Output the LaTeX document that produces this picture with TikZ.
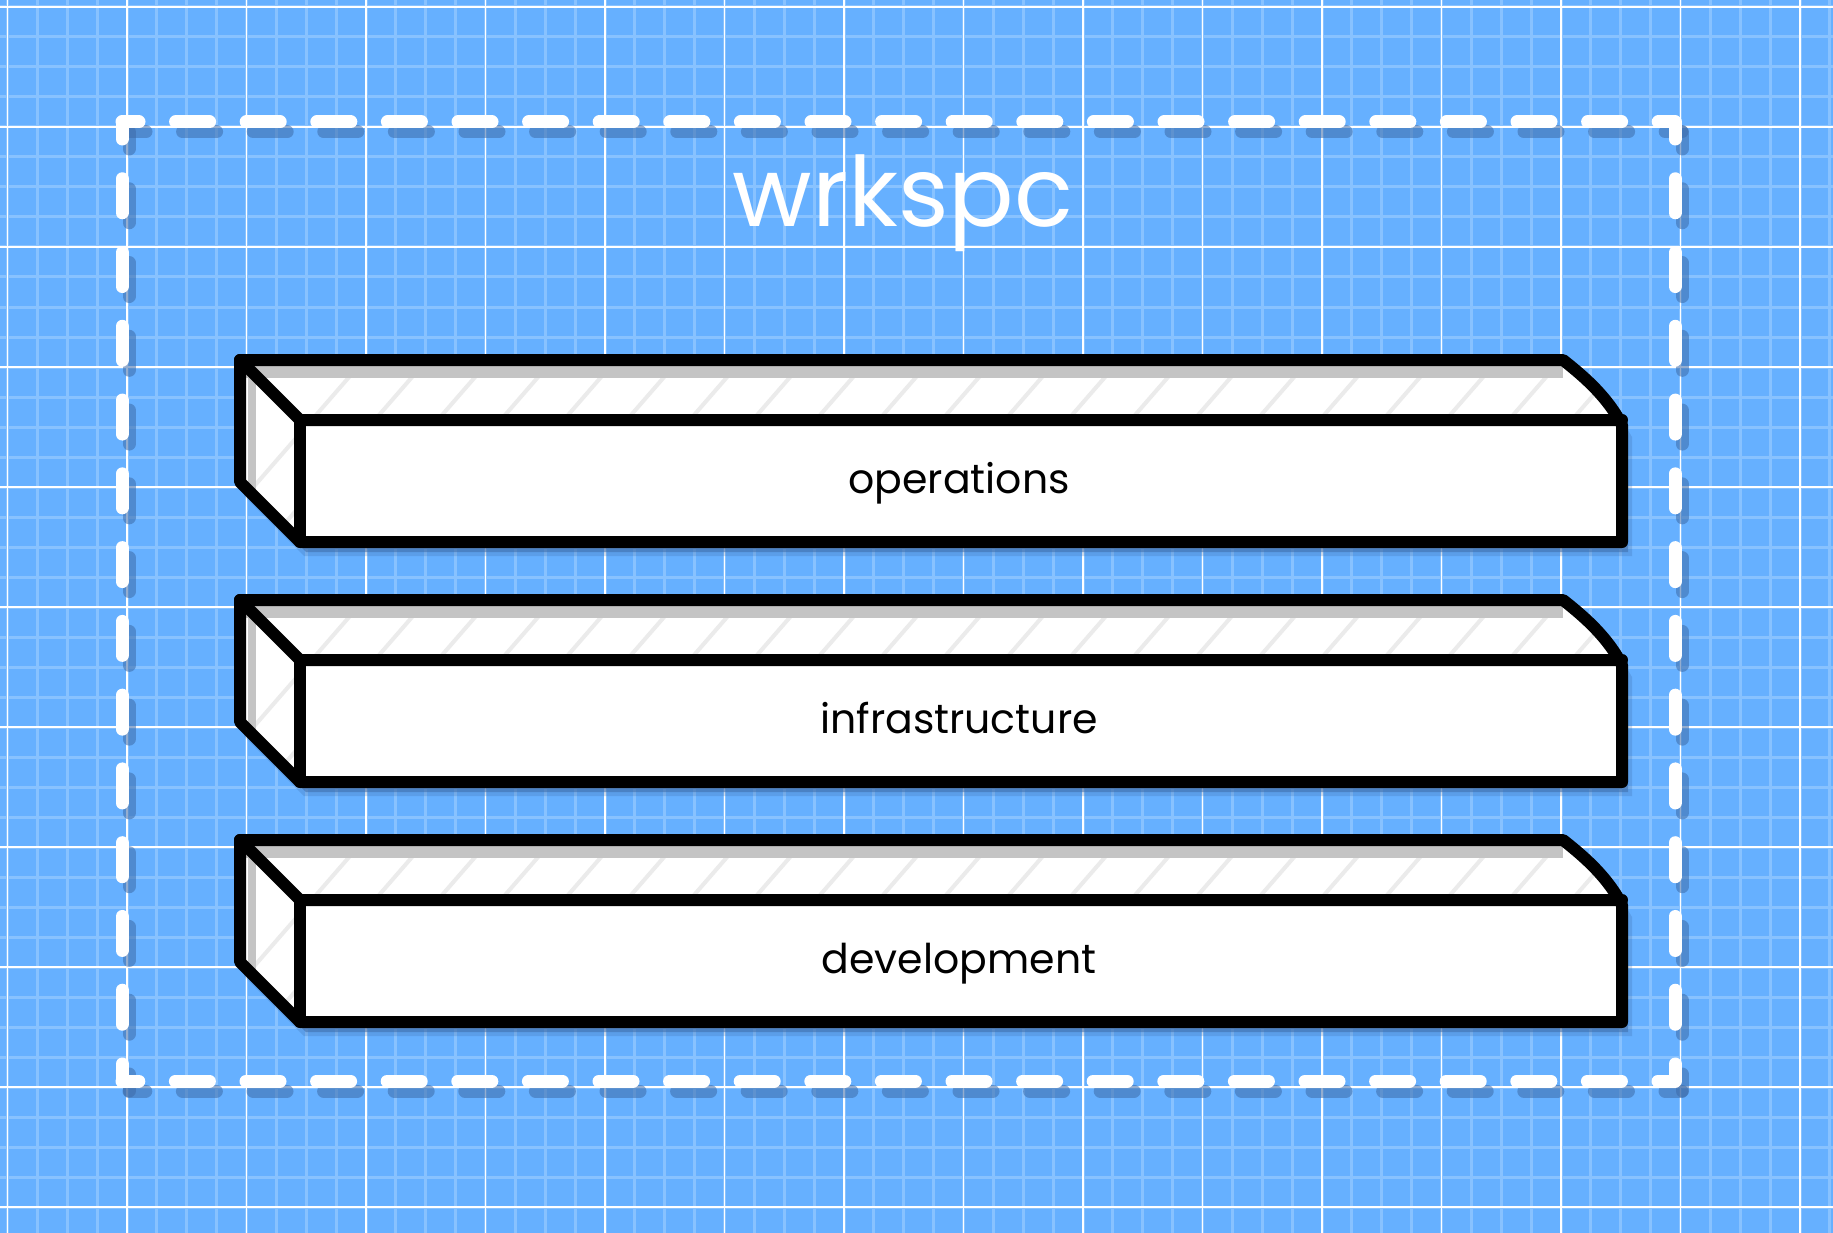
\documentclass[tikz,border=0pt]{standalone}
\usepackage{fontspec}
\setmainfont{Poppins}
\definecolor{bg}{HTML}{66B0FF}
\definecolor{minorc}{HTML}{88C2FF}
\definecolor{shadowc}{HTML}{3D6BA8}
\definecolor{hatchc}{HTML}{EBEBEB}
\definecolor{bandc}{HTML}{C4C4C4}
\tikzset{
  minorline/.style={minorc, line width=3pt},
  majorline/.style={white, line width=1.6pt},
  barline/.style={black, line width=12pt, line join=round, line cap=round},
  dashH/.style={dash pattern=on 34pt off 36.6pt, dash phase=17pt},
  dashV/.style={dash pattern=on 34pt off 39.77pt, dash phase=17pt},
  frameline/.style={line width=13pt, line cap=round},
  lbl/.style={font=\fontsize{41}{48}\selectfont, text=black, anchor=base, inner sep=0pt},
  ttl/.style={font=\fontsize{97}{110}\selectfont, anchor=base, inner sep=0pt},
}
\begin{document}
\begin{tikzpicture}[x=1pt,y=-1pt]
\useasboundingbox (0,0) rectangle (1833,1233);
\fill[bg] (0,0) rectangle (1833,1233);
% grid
\foreach \i in {0,...,61} {\draw[minorline] ({7.5+\i*29.875},0) -- ({7.5+\i*29.875},1233);}
\foreach \j in {0,...,41} {\draw[minorline] (0,{7+\j*30}) -- (1833,{7+\j*30});}
\foreach \i in {0,...,15} {\draw[majorline] ({7.5+\i*119.5},0) -- ({7.5+\i*119.5},1233);}
\foreach \j in {0,...,10} {\draw[majorline] (0,{7+\j*120}) -- (1833,{7+\j*120});}
% dashed frame: shadow then white
\foreach \dx/\dy/\col/\op in {7/10/shadowc/0.55, 0/0/white/1} {
  \begin{scope}[shift={(\dx,\dy)}]
  \draw[frameline, dashH, \col, opacity=\op] (122,122) -- (1675,122);
  \draw[frameline, dashV, \col, opacity=\op] (1675,122) -- (1675,1081);
  \draw[frameline, dashH, \col, opacity=\op] (1675,1081) -- (122,1081);
  \draw[frameline, dashV, \col, opacity=\op] (122,1081) -- (122,122);
  \end{scope}
}
% title
\node[ttl, text=white] (title) at (903,227) {wrkspc};
% bars
\foreach \dy/\name/\txt in {0/ops/operations, 240/infra/infrastructure, 480/dev/development} {
  \begin{scope}[shift={(0,\dy)}]
    \fill[shadowc, opacity=0.25] (246,374) -- (1571,374) .. controls (1594,392) and (1618,412) .. (1632,437) -- (1632,556) -- (304,556) -- (244,496) -- cycle;
    \fill[shadowc, opacity=0.55] (246,370) -- (1569,370) .. controls (1592,388) and (1614,408) .. (1628,435) -- (1628,552) -- (306,552) -- (246,492) -- cycle;
    \fill[white] (240,360) -- (1563,360) .. controls (1586,378) and (1608,398) .. (1622,425) -- (1622,542) -- (300,542) -- (240,482) -- cycle;
    \begin{scope}
      \clip (240,360) -- (1563,360) -- (1622,420) -- (300,420) -- (300,542) -- (240,482) -- cycle;
      \foreach \x in {40,103,...,1660} {\draw[hatchc, line width=4pt] (\x+150,560) -- (\x+350,330);}
      \draw[bandc, line width=12pt] (240,372) -- (1563,372);
      \draw[bandc, line width=8pt] (252,360) -- (252,490);
    \end{scope}
    \draw[barline] (240,360) -- (1563,360) .. controls (1586,378) and (1608,398) .. (1622,425) -- (1622,542) -- (300,542) -- (240,482) -- cycle;
    \draw[barline] (240,360) -- (300,420) -- (1622,420);
    \draw[barline] (300,420) -- (300,542);
    \node[lbl] (\name) at (959,493) {\txt};
  \end{scope}
}
\end{tikzpicture}
\end{document}
